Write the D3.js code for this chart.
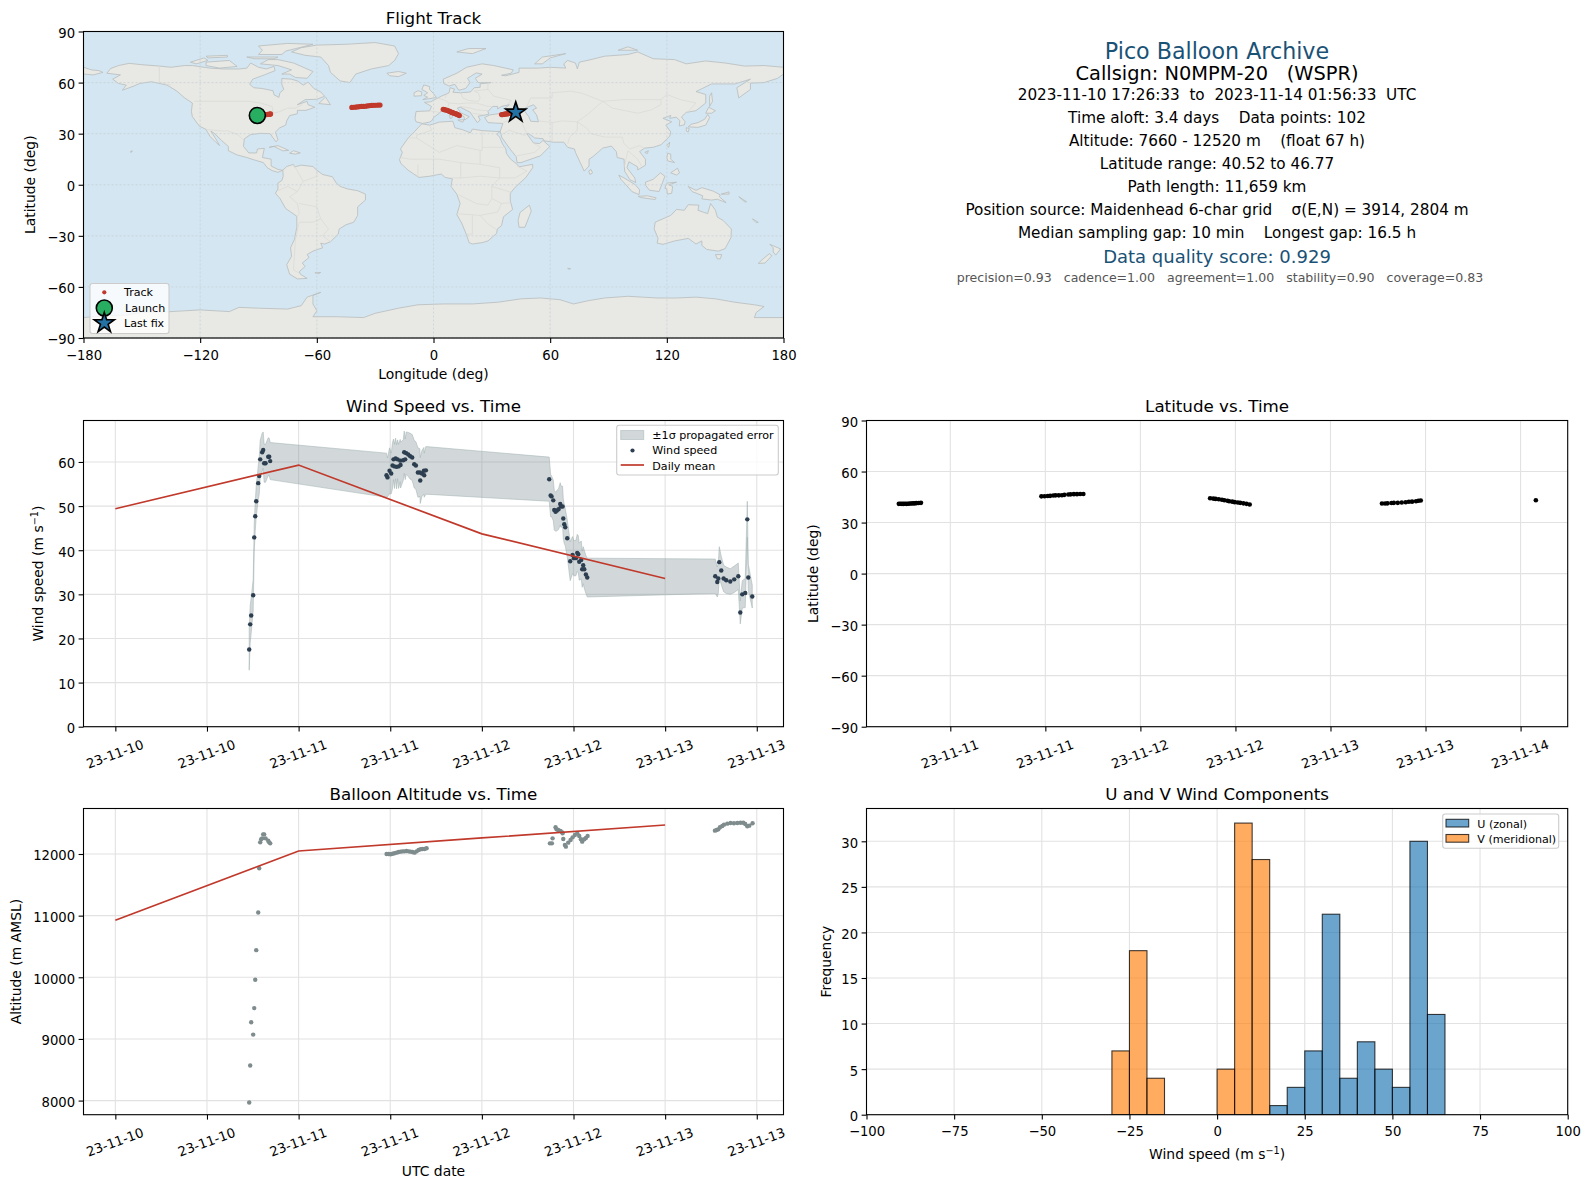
<!DOCTYPE html>
<html>
<head>
<meta charset="utf-8">
<script src="https://cdn.jsdelivr.net/npm/d3@7"></script>
<style>
  body { margin: 0; background: #fff; }
  svg { display: block; font-family: "DejaVu Sans", sans-serif; }
</style>
</head>
<body>
<div id="chart"></div>
<script>
// hours since 2023-11-10 00:00 UTC
const windHours = [17.53,17.66,17.79,18.05,18.19,18.32,18.45,18.71,18.84,18.97,19.23,19.36,19.49,19.67,20.02,20.15,20.28,
  35.51,35.64,35.91,36.13,36.30,36.43,36.56,36.70,36.83,36.96,37.09,37.31,37.35,37.70,37.83,37.96,38.09,38.36,38.62,38.88,39.14,39.36,39.62,39.88,39.93,40.15,40.41,40.45,40.67,
  56.82,57.00,57.13,57.35,57.48,57.65,57.83,58.04,58.26,58.35,58.57,58.66,58.79,58.92,59.18,59.57,59.88,60.05,60.31,60.49,60.62,60.75,61.01,61.14,61.27,61.41,61.62,61.80,
  78.56,78.83,78.96,79.09,79.35,79.66,80.00,80.53,81.05,81.58,81.84,82.10,82.49,82.76,82.89,83.41];
const windSpeed = [17.5,23.2,25.2,29.8,42.9,47.7,51.1,55.2,56.8,60.6,62.2,62.7,59.7,59.7,61.2,61.2,60.2,
  57.0,56.5,58.0,57.4,59.2,60.6,59.0,60.8,58.9,60.6,59.0,60.3,59.3,60.4,62.2,60.6,62.0,61.7,61.3,61.0,59.5,59.2,57.6,57.6,55.8,57.4,58.0,57.0,58.1,
  56.1,52.4,52.2,51.3,49.1,48.7,49.0,49.3,50.5,49.9,49.9,47.2,45.9,45.2,42.7,37.5,38.9,38.2,38.2,39.4,39.1,37.4,37.8,35.7,36.6,35.7,34.5,33.8,
  34.1,32.8,33.6,37.3,35.4,33.6,33.2,32.9,33.4,34.1,25.9,30.0,30.3,47.0,33.8,29.5];
const windSigma = [4.7,4.2,4.0,3.6,3.2,3.3,3.5,3.8,4.2,4.3,4.3,4.1,4.3,4.3,4.3,4.2,4.2,
  5.0,4.4,5.2,4.6,5.2,4.6,5.0,4.6,5.0,4.4,5.0,4.8,5.2,4.6,4.8,4.6,4.8,5.0,5.2,5.2,5.4,5.4,5.6,5.4,5.2,5.2,5.3,5.0,5.4,
  5.0,4.8,4.6,4.6,4.5,4.4,4.6,4.6,4.8,4.7,4.6,4.5,4.4,4.2,4.2,4.4,4.2,4.0,4.0,4.2,4.2,4.2,4.3,4.1,4.2,4.3,4.3,4.4,
  3.9,3.4,3.4,3.5,3.2,3.0,3.0,2.9,3.0,3.0,2.6,3.1,3.3,4.1,3.0,2.6];
const dailyHours = [0, 24, 48, 72];
const dailyWind = [49.4, 59.3, 43.7, 33.6];
const dailyAltitude = [10925, 12049, 12260, 12470];

const altHours = [17.53,17.66,17.79,18.05,18.19,18.32,18.45,18.71,18.84,18.97,19.10,19.23,19.36,19.49,19.67,20.02,20.15,20.28,
  35.52,35.78,36.04,36.30,36.56,36.83,37.09,37.35,37.61,37.87,38.14,38.40,38.66,38.92,39.18,39.45,39.71,39.97,40.23,40.49,40.76,
  56.91,57.17,57.26,57.65,57.78,58.00,58.30,58.52,58.57,58.66,58.87,59.00,59.31,59.62,59.88,60.18,60.49,60.75,60.97,61.14,61.41,61.62,61.85,
  78.52,78.74,78.96,79.18,79.48,79.70,80.14,80.57,81.01,81.45,81.88,82.23,82.49,82.76,83.02,83.45];
const altitude = [7970,8570,9270,9070,9500,9960,10440,11050,11768,12189,12238,12254,12319,12319,12254,12216,12189,12173,
  12000,12000,11995,12005,12011,12022,12033,12038,12043,12043,12049,12043,12038,12033,12022,12043,12065,12076,12081,12081,12092,
  12173,12173,12254,12433,12400,12389,12373,12351,12335,12243,12146,12119,12184,12227,12270,12308,12335,12292,12238,12200,12238,12260,12292,
  12379,12389,12400,12433,12454,12476,12492,12503,12498,12503,12508,12508,12487,12449,12460,12498];

const trackHours = [17.5,17.7,17.9,18.1,18.3,18.5,18.7,18.9,19.1,19.3,19.5,19.7,20.0,20.3,
  35.5,35.9,36.3,36.6,37.0,37.3,37.7,38.1,38.4,38.9,39.2,39.6,40.0,40.4,40.8,
  56.8,57.2,57.5,57.9,58.3,58.6,59.0,59.2,59.6,59.9,60.3,60.6,61.0,61.4,61.8,
  78.5,78.9,79.2,79.7,80.0,80.5,81.0,81.5,81.9,82.3,82.8,83.1,83.4,97.93];
const trackLat = [41.0,41.1,41.0,41.0,41.1,41.0,41.1,41.2,41.2,41.3,41.3,41.4,41.5,41.6,
  45.4,45.5,45.6,45.7,45.9,46.0,46.0,46.1,46.3,46.5,46.6,46.7,46.7,46.8,46.8,
  44.3,44.1,43.9,43.7,43.4,43.1,42.8,42.5,42.3,42.0,41.8,41.6,41.3,41.0,40.6,
  41.2,41.2,41.3,41.5,41.6,41.6,41.8,41.9,42.2,42.3,42.5,42.8,43.0,43.1];
const trackLon = [-90.5,-89.8,-89.2,-88.6,-88.0,-87.4,-86.8,-86.3,-85.8,-85.3,-84.8,-84.4,-84.1,-83.8,
  -42.0,-41.0,-40.0,-39.1,-38.0,-37.0,-36.0,-35.0,-34.0,-32.8,-31.7,-30.6,-29.6,-28.5,-27.5,
  5.0,5.7,6.3,7.0,7.6,8.2,8.8,9.4,10.0,10.5,11.1,11.7,12.2,12.8,13.3,
  35.0,35.5,36.0,36.6,37.2,37.8,38.4,39.0,39.6,40.2,40.8,41.3,41.8,42.3];
const launchPoint = [-90.6, 40.7];
const lastFix = [42.3, 42.5];

const binEdgesU = [15,20,25,30,35,40,45,50,55,60,65];
const countsU = [1,3,7,22,4,8,5,3,30,11];
const binEdgesV = [-30,-25,-20,-15,-10,-5,0,5,10,15];
const countsV = [7,18,4,0,0,0,5,32,28];

const infoLines = [
  ["Pico Balloon Archive", 50.5, 22.2, "#1a5276", 1217],
  ["Callsign: N0MPM-20   (WSPR)", 73, 19.4, "#000", 1217],
  ["2023-11-10 17:26:33  to  2023-11-14 01:56:33  UTC", 94.5, 15.25, "#000", 1217],
  ["Time aloft: 3.4 days    Data points: 102", 117.5, 15.25, "#000", 1217],
  ["Altitude: 7660 - 12520 m    (float 67 h)", 140.5, 15.25, "#000", 1217],
  ["Latitude range: 40.52 to 46.77", 163.5, 15.25, "#000", 1217],
  ["Path length: 11,659 km", 186.5, 15.25, "#000", 1217],
  ["Position source: Maidenhead 6-char grid    σ(E,N) = 3914, 2804 m", 209.5, 15.25, "#000", 1217],
  ["Median sampling gap: 10 min    Longest gap: 16.5 h", 232.5, 15.25, "#000", 1217],
  ["Data quality score: 0.929", 256.3, 18, "#1a5276", 1217],
  ["precision=0.93   cadence=1.00   agreement=1.00   stability=0.90   coverage=0.83", 277.5, 12.55, "#555", 1220]
];

// rough coastlines, lon/lat
const landPolygons = [
  [[-168,65.5],[-166,68.3],[-162,70],[-156.5,71.3],[-150,70.5],[-141,69.7],[-135,69],[-128,70],[-124,70],[-115,68.5],[-108,68],[-100,68],[-96,68.5],[-94,71.5],[-90,69],[-86,68],[-82,69.5],[-81.5,67],[-87,64.5],[-93,62],[-94.5,59],[-92.5,57],[-88,56.5],[-82.5,55.2],[-82,52.8],[-79.5,51.3],[-79,54],[-77,56],[-78,59],[-78,62.4],[-73,62],[-70,61],[-67,58.5],[-64.5,60.3],[-61.5,56.5],[-58,54.5],[-56,52],[-60,50.2],[-66,50],[-70,47],[-65,49],[-64.5,47],[-61,45.5],[-65.5,43.7],[-70,43.7],[-70,41.7],[-74,40.6],[-75.5,37.5],[-76,35],[-79,33.5],[-81.3,31],[-80,26.5],[-81,25.2],[-82.8,28],[-84,30],[-89,30.2],[-94,29.5],[-97.3,27],[-97.7,22.5],[-95,18.7],[-91,18.7],[-90.5,21],[-87,21.4],[-88,16],[-83.5,15],[-83.5,11],[-80,9],[-77.5,8.5],[-80,7.3],[-83,8.3],[-85.5,10],[-87.5,13],[-92,14.5],[-96,16],[-101,17.5],[-105.5,20],[-105.5,22.5],[-109,26],[-112.5,30],[-114.5,31.5],[-112,27],[-110,23],[-112,25],[-115,28.5],[-117,32.5],[-120.5,34.5],[-124,40],[-124.5,43],[-124,48],[-128,51],[-132,55],[-137,58.5],[-145,60.5],[-151,59.5],[-154,58],[-160,55.5],[-158,58.5],[-162,59.5],[-165,62],[-161,64.5]],
  [[-180,69],[-176,67.5],[-172,67],[-170,66],[-175,64.5],[-180,65]],
  [[-73,78],[-68,80.5],[-60,82],[-45,82.5],[-30,83.5],[-20,81.5],[-18,77],[-20,73],[-23,70],[-32,68],[-40,65],[-43,60],[-48,61],[-53,66],[-54,70],[-58,75],[-66,76]],
  [[-80,73.5],[-72,71.5],[-67,69],[-62,66.5],[-65,62.5],[-71,63],[-74,65],[-78,65],[-73,67.5],[-80,70],[-89,71],[-85,73.5]],
  [[-117,72],[-105,73],[-101,69.5],[-110,68.5],[-117,70]],
  [[-90,76.5],[-78,76.5],[-76,78.5],[-62,82.5],[-75,83],[-90,81.5],[-88,79]],
  [[-125,72],[-118,74.5],[-116,73],[-122,71]],
  [[-96,75],[-80,75],[-82,74],[-92,74]],
  [[-117,75.5],[-106,76],[-106,75],[-116,74.5]],
  [[-59,47.7],[-55.5,51.5],[-53,47]],
  [[-84.5,22],[-80,23],[-74.5,20.2],[-77.5,19.9],[-82,22.5]],
  [[-74,18.5],[-72,20],[-68.5,18.7],[-71,18]],
  [[-156,19.2],[-155,20],[-155,19.3]],
  [[-77.5,8.5],[-75.5,10.7],[-72,12],[-71.5,10.5],[-68,11.5],[-62,10.7],[-60,8.5],[-57,6],[-52,4.7],[-50,1],[-48,-1],[-44,-2.5],[-39,-3.5],[-35,-5.5],[-35,-9],[-39,-13],[-39,-18],[-41,-22],[-45,-23.5],[-48.5,-26],[-49,-29],[-53,-33.5],[-56,-34.8],[-58,-34.3],[-57,-37],[-62,-39],[-65,-41],[-64,-42.7],[-67.5,-46],[-66,-48],[-69,-51],[-68.5,-52.5],[-65,-55],[-70,-55.3],[-74,-52.5],[-75.5,-47],[-73,-42],[-73.5,-37],[-71.5,-32],[-70.3,-25],[-70.3,-18.5],[-76,-14],[-79,-8],[-81.3,-5],[-80,-2.5],[-80,1],[-78,2.5],[-77.3,5]],
  [[-61,-51.7],[-58,-51.5],[-59,-52.2]],
  [[-6,35.8],[-2,35],[3,36.8],[10,37.3],[11,33.5],[15,32.3],[19,30.5],[20,32.7],[25,31.8],[32,31.3],[34.3,31.3],[32.5,29.8],[34,28],[35.5,24],[37.2,21],[37.5,18.5],[39.5,15.2],[43,12],[44,10.5],[51,12],[51,10],[47.5,4.3],[42,-1.5],[39.5,-5],[39.5,-9.5],[40.7,-14.5],[36,-18.8],[35,-24],[32.8,-26],[32.5,-28.5],[28,-33],[25,-34],[20,-34.8],[18.3,-34],[17,-29.5],[14.5,-22.5],[12,-17.5],[13.7,-11],[12,-5.5],[9,-1],[9.7,3.5],[6,4.3],[4,6.3],[-2,5],[-7.5,4.3],[-13,8.5],[-16.8,12.5],[-17.5,14.7],[-16,19],[-17,21],[-13,27.5],[-9.5,31.5]],
  [[-9,37],[-9.5,38.8],[-9,43],[-2,43.4],[-1,46],[-4.7,48.4],[-1.5,48.7],[1.5,50.5],[4,52],[8,54],[8.5,57],[10.8,56.2],[10,54.3],[14,54],[19,54.5],[21,57],[24,57.2],[24,59.3],[29.5,60],[23,60],[21.5,62.5],[25,65],[22,65.7],[17.5,62.5],[18.8,60],[16.5,56.5],[13,55.5],[11,59],[8,58],[5.2,59.5],[5,62],[12,65.5],[17,69],[25,71],[31,70],[41,67.5],[40,65.5],[35,64.3],[37,64],[40,64.8],[44,66],[44,68.5],[54,68.5],[60,69],[68,68.5],[67,71],[69,73],[73,71.5],[74,68],[75,72],[81,73.5],[88,75.5],[100,76.5],[105,78],[113,74],[124,73.5],[130,71],[140,72.7],[150,71.5],[160,69.7],[170,70],[180,69],[180,65],[177,62.5],[170,60],[163,59.7],[163,56],[157,51],[156,57],[163,62],[155,59.2],[143,59.2],[135,54.7],[140,53],[140,48],[135,43.5],[130,42.5],[127.5,39.8],[129.4,37],[129,35.2],[126.4,34.5],[126.7,37.7],[124.8,39.7],[121.5,39],[122,40.7],[118,39],[122.5,37],[119.5,35],[122,31],[121.5,28.5],[117,23.5],[113,22],[108.5,21.5],[106,19.5],[109,15],[109,11.5],[105,8.7],[105,10.5],[100.5,13.5],[99.5,10],[103.5,4],[104,1.3],[101,3],[98.3,8],[98,15],[94.5,16],[94,19.5],[91.5,22.7],[87,21.5],[82,16.5],[80,15],[80,11],[77.5,8],[73,19],[72.5,21],[69,22],[67,25],[61.5,25],[57,25.8],[56.4,27],[52,27.5],[49,30],[48,30],[50.5,26],[51.5,24.5],[54.5,24.2],[56.3,26],[59.8,22.5],[55,17],[45,13],[43,13],[42.5,16.5],[39,21.5],[35,28],[34.8,29.5],[34.3,31.3],[35.7,36],[32,36.2],[28,36.5],[26.3,39.5],[29,41],[35,42],[41.5,41.5],[38,44.5],[37,45.2],[39,47],[35,46],[33,44.5],[33,46],[30.5,46],[28,43],[28.5,41.5],[26,40.8],[23,40.3],[24,38],[22.5,36.5],[19.5,41.5],[19,42.5],[13.7,45.6],[12.3,45],[14,42.3],[18.4,40],[16,38],[15.7,40],[10.5,43],[8.7,44.4],[4,43.4],[3,42],[0,39.5],[-0.5,38],[-2,36.8],[-5.5,36]],
  [[-5.5,50],[1.5,51.2],[0,53.5],[-2,56],[-2,57.7],[-5,58.6],[-6,56],[-3,54],[-5,52.5],[-3,51.4]],
  [[-10,52],[-6.2,52.3],[-6,54.5],[-8,55.2],[-10,54]],
  [[-24,65.5],[-18,66.5],[-14,65.5],[-18,63.5],[-22.5,64]],
  [[12,78],[18,80],[27,80],[20,77]],
  [[52,71],[56,75],[68,77],[60,74.5],[56,71]],
  [[95,79],[105,79],[100,81]],
  [[142,46],[143.5,49],[143,54],[142,52],[142,48]],
  [[131,34],[136,33.7],[140,35],[142,39.5],[141,41.3],[139.5,38.5],[136,36.5],[132.5,35.5]],
  [[140,42],[141.5,45.5],[145,43.5],[143,42]],
  [[130,33.5],[131.5,33],[131,31],[130,31.5]],
  [[120,23],[121.5,25],[121,22]],
  [[108.7,19],[110.5,20],[110,18.3]],
  [[120,16],[120.5,18.5],[122,18],[122,15],[124,13],[120.5,14]],
  [[122,7],[125.5,9.7],[126.5,7],[125,5.7]],
  [[79.8,8],[81,9],[81.8,7],[80.5,6]],
  [[95.3,5.6],[98,4],[103.8,0],[106,-3],[105.7,-5.8],[102,-4],[99,0],[96.5,3]],
  [[105.3,-6.8],[110,-6.5],[114.5,-7.7],[114,-8.7],[106.5,-7.5]],
  [[109,1.5],[113,3.2],[116.7,7],[119,5],[117.7,1],[116,-4],[111,-3.2],[109.2,-0.5]],
  [[120,1],[125,1.5],[121,0],[123,-1],[122.5,-5],[120.3,-5.5],[120,-2.5],[119,-2]],
  [[131,-1],[135,-3.3],[138,-1.7],[144,-3.8],[147.5,-6],[147,-7],[150.5,-10.5],[146,-8.5],[143,-9],[138,-8.3],[138.5,-6.5],[133,-4],[132,-2.5]],
  [[148,-5.5],[152,-4.2],[152,-5.5]],
  [[157,-7],[161,-10],[160,-10]],
  [[164,-20],[167,-22],[166,-22.3]],
  [[114,-22],[113.5,-26],[115.5,-31.5],[115,-34.3],[118,-35],[124,-33],[131,-31.5],[135,-34.8],[138,-33],[138,-35.6],[140.5,-38],[146.5,-39],[150,-37.5],[153,-31],[153.2,-26],[149,-21],[146,-19],[145,-15],[142.5,-11],[141,-17],[136,-15],[136.5,-12],[131,-11.7],[129,-15],[125,-14.5],[122,-18],[117,-20.5]],
  [[145,-41],[148.2,-41],[147.5,-43.5],[146,-43.5]],
  [[173,-35],[178.5,-37.7],[176,-41.3],[174.7,-39.5],[174.7,-37]],
  [[172.7,-40.5],[174,-41.7],[170.5,-46],[167,-46.2],[170,-43]],
  [[49.3,-12],[50.3,-15.5],[47,-25],[44,-25],[43.5,-21],[44.5,-16.3]],
  [[69,-49],[70.5,-49.3],[69.5,-49.7]],
  [[12.5,38],[15.6,38.2],[15,36.7]],
  [[8.3,41],[9.7,41],[9.5,39.2],[8.5,39]],
  [[-180,-78],[-170,-77],[-158,-76.5],[-150,-75],[-135,-74.5],[-120,-73.5],[-105,-74.5],[-100,-72],[-90,-72.5],[-75,-73],[-68,-71],[-65,-66],[-58,-63.2],[-62,-65],[-62,-70],[-60,-74],[-62,-77.5],[-50,-77.5],[-36,-78],[-30,-75.5],[-18,-72.5],[-8,-70.5],[5,-70],[20,-70],[33,-69],[45,-67],[55,-66.5],[65,-67.5],[72,-70],[80,-68],[88,-66.5],[100,-65.5],[115,-66.5],[125,-66.5],[135,-66],[145,-67],[155,-69],[165,-70.5],[170,-71.5],[166,-75],[165,-78],[180,-78],[180,-90],[-180,-90]]
];
const seaPolygons = [
  [[47,45],[51.5,47],[53,45],[51,44],[53,41],[54,37],[50,37.3],[49,40],[47,43]]
];
const borderLines = [
  [[-123,49],[-95,49],[-89,48],[-83,46],[-82.5,42],[-79,43],[-75,45],[-71,45],[-67.5,47]],
  [[-141,69.7],[-141,60],[-135,58.5]],
  [[-117,32.5],[-108,31.5],[-106,31.7],[-101,29.7],[-97.3,26]],
  [[-72,12],[-67,2],[-70,-4],[-74,-7],[-70,-11],[-69,-17],[-70,-18.5]],
  [[-69,-11],[-60,-13],[-58,-20],[-54,-26],[-57,-30],[-53,-33.5]],
  [[-69,-22],[-62,-22],[-58,-20]],
  [[-69,-22],[-71,-32],[-72,-50],[-69,-52]],
  [[-60,8.5],[-60,5],[-67,2]],
  [[-80,-3.5],[-75,-1],[-70,-4]],
  [[-13,27.5],[-8.7,27.5],[-8.7,29],[-1,32],[-2,35]],
  [[-8.7,27.5],[3,19],[12,23],[25,20],[25,31.8]],
  [[25,22],[37,22]],
  [[-17,16],[-12,15],[-5,15],[3,15],[14,13],[24,12],[24,20]],
  [[14,13],[14,4],[9,4]],
  [[24,12],[34,10],[34,4],[42,4],[48,8],[43,11]],
  [[34,4],[30,-1],[30,-8],[28,-12],[22,-11],[13,-6]],
  [[34,4],[24,5],[14,4]],
  [[30,-1],[40,-4.5]],
  [[30,-8],[35,-11],[40,-10.5]],
  [[12,-17],[24,-18],[33,-16],[35,-11]],
  [[20,-18],[20,-29],[17,-29]],
  [[24,-18],[28,-23],[32,-26]],
  [[0,5.5],[0,15]],
  [[-8,4.5],[-8,12]],
  [[-2,43.4],[3,42.5]],
  [[2,51],[6,49.5],[8,48],[7,44]],
  [[6,51],[7,53.5]],
  [[14,54],[15,51],[18,49.5],[23,49],[24,51],[23,54],[21,55],[28,56]],
  [[8,48],[13,47.5],[17,48],[22,48],[28,46],[30,46]],
  [[13.5,46],[19,45],[22,44],[28,43.5]],
  [[20,42],[26,41]],
  [[28,60],[28,56],[31,52],[40,49.5],[38,47]],
  [[48,46],[50,51],[61,51],[61,54],[71,55],[77,53.5],[87,49],[98,50],[107,50],[117,50],[120,53],[127,50],[135,48],[131,43]],
  [[87,49],[92,45],[105,42],[112,44],[117,47],[117,50]],
  [[74,37],[79,33],[81,30],[88,28],[97,28],[98,24],[101,21],[106,23],[108,21.5]],
  [[74,37],[74,32],[70,28],[69,24]],
  [[44.5,39.5],[46,35],[48,30]],
  [[61,36.5],[61,25]],
  [[54,37.5],[61,36.5],[66,37.5],[74,37]],
  [[74,37],[80,42],[87,49]],
  [[35,29.5],[39,32],[47,29],[48,30]],
  [[43,17],[52,19],[55,22],[52,24]],
  [[98,10],[100,20],[105,15],[107,11]],
  [[41.5,41.5],[44.5,39.5],[36,36.7]]
];

const W = 1589, H = 1189;
const TIME0 = Date.UTC(2023, 10, 10);
const toDate = h => new Date(TIME0 + h * 3600e3);
const fmtDate = d3.utcFormat("%y-%m-%d");
const RED = "#c0392b", SLATE = "#2c3e50", GREY = "#7f8c8d";

const svg = d3.select("#chart").append("svg").attr("width", W).attr("height", H);

// one panel: gridlines, ticks, spines, title and axis labels
function panel(box, xScale, yScale, opts) {
  const g = svg.append("g");
  const clipId = "clip" + opts.id;
  g.append("clipPath").attr("id", clipId).append("rect")
    .attr("x", box.x0).attr("y", box.y0)
    .attr("width", box.x1 - box.x0).attr("height", box.y1 - box.y0);

  const bg = g.append("g");
  const gridG = g.append("g")
    .attr("stroke", opts.gridColor || "#e2e2e2")
    .attr("stroke-width", opts.gridWidth || 1.1)
    .attr("stroke-dasharray", opts.gridDash || null);
  const plot = g.append("g").attr("clip-path", `url(#${clipId})`);
  const xTicks = opts.xTicks, yTicks = opts.yTicks;
  gridG.selectAll("line.gx").data(xTicks).enter().append("line").attr("class", "gx")
    .attr("x1", d => xScale(d)).attr("x2", d => xScale(d))
    .attr("y1", box.y0).attr("y2", box.y1);
  gridG.selectAll("line.gy").data(yTicks).enter().append("line").attr("class", "gy")
    .attr("x1", box.x0).attr("x2", box.x1)
    .attr("y1", d => yScale(d)).attr("y2", d => yScale(d));

  const over = g.append("g");
  const axisX = over.append("g").attr("transform", `translate(0,${box.y1})`)
    .call(d3.axisBottom(xScale).tickValues(xTicks).tickSizeOuter(0).tickSize(4.9).tickPadding(7.5)
      .tickFormat(opts.xFormat || (d => String(d).replace("-", "−"))));
  const axisY = over.append("g").attr("transform", `translate(${box.x0},0)`)
    .call(d3.axisLeft(yScale).tickValues(yTicks).tickSizeOuter(0).tickSize(4.9).tickPadding(3.5)
      .tickFormat(d => String(d).replace("-", "−")));
  [axisX, axisY].forEach(a => {
    a.select(".domain").remove();
    a.selectAll("line").attr("stroke", "#000").attr("stroke-width", 1.1);
    a.selectAll("text").attr("fill", "#000").style("font-family", "DejaVu Sans").style("font-size", "13.2px");
  });
  axisY.selectAll("text").attr("dy", "0.45em");
  if (opts.xFormat) {
    axisX.selectAll("text").attr("text-anchor", "middle")
      .attr("dy", null).attr("y", 0)
      .attr("transform", "translate(-0.7,28) rotate(-20)")
      .attr("dominant-baseline", "middle");
  }
  over.append("rect").attr("x", box.x0).attr("y", box.y0)
    .attr("width", box.x1 - box.x0).attr("height", box.y1 - box.y0)
    .attr("fill", "none").attr("stroke", "#000").attr("stroke-width", 1.1);

  svg.append("text").attr("x", (box.x0 + box.x1) / 2).attr("y", opts.titleY || box.y0 - 9)
    .attr("text-anchor", "middle").style("font-size", "16.7px").text(opts.title);
  if (opts.xLabel) {
    const xl = svg.append("text").attr("x", (box.x0 + box.x1) / 2).attr("y", opts.xLabelY)
      .attr("text-anchor", "middle").style("font-size", "13.9px").text(opts.xLabel);
    if (opts.xLabelSup) addSuperscript(xl, opts.xLabelSup);
  }
  const yl = svg.append("text")
    .attr("transform", `translate(${opts.yLabelX},${(box.y0 + box.y1) / 2}) rotate(-90)`)
    .attr("text-anchor", "middle").style("font-size", "13.9px").text(opts.yLabel);
  if (opts.yLabelSup) addSuperscript(yl, opts.yLabelSup);
  return { bg, plot };
}

function addSuperscript(label, sup) {
  label.append("tspan").attr("dy", -5).style("font-size", "9.7px").text(sup);
  label.append("tspan").attr("dy", 5).text(")");
}

function legendBox(x, y, w, h) {
  svg.append("rect").attr("x", x).attr("y", y).attr("width", w).attr("height", h).attr("rx", 2.5)
    .attr("fill", "#fff").attr("fill-opacity", 0.8).attr("stroke", "#ccc").attr("stroke-width", 1.1);
}
function legendText(x, y, label) {
  svg.append("text").attr("x", x).attr("y", y).attr("dominant-baseline", "central")
    .style("font-size", "11.1px").attr("fill", "#000").text(label);
}

// ---- Flight track map
const mapBox = { x0: 83.5, x1: 783.5, y0: 31.5, y1: 338 };
const lonX = d3.scaleLinear().domain([-180, 180]).range([mapBox.x0, mapBox.x1]);
const latY = d3.scaleLinear().domain([-90, 90]).range([mapBox.y1, mapBox.y0]);
const geoLine = d3.line().x(d => lonX(d[0])).y(d => latY(d[1]));
const mapPanel = panel(mapBox, lonX, latY, {
  id: "map", title: "Flight Track", titleY: 23.5, xLabel: "Longitude (deg)", xLabelY: 379, yLabel: "Latitude (deg)", yLabelX: 35,
  xTicks: [-180, -120, -60, 0, 60, 120, 180], yTicks: [-90, -60, -30, 0, 30, 60, 90],
  gridColor: "#c4d0d6", gridDash: "2,2", gridWidth: 0.7
});
mapPanel.bg.append("rect").attr("x", mapBox.x0).attr("y", mapBox.y0)
  .attr("width", mapBox.x1 - mapBox.x0).attr("height", mapBox.y1 - mapBox.y0).attr("fill", "#d4e6f1");
mapPanel.bg.selectAll("path.land").data(landPolygons).enter().append("path").attr("class", "land")
  .attr("d", d => geoLine(d) + "Z")
  .attr("fill", "#e8e8e4").attr("stroke", "#b8bcbc").attr("stroke-width", 0.8).attr("stroke-linejoin", "round");
mapPanel.bg.selectAll("path.sea").data(seaPolygons).enter().append("path").attr("class", "sea")
  .attr("d", d => geoLine(d) + "Z")
  .attr("fill", "#d4e6f1").attr("stroke", "#b8bcbc").attr("stroke-width", 0.8);
mapPanel.bg.selectAll("path.border").data(borderLines).enter().append("path").attr("class", "border")
  .attr("d", geoLine).attr("fill", "none").attr("stroke", "#d9d9d5").attr("stroke-width", 0.7);
mapPanel.plot.selectAll("circle").data(trackLon).enter().append("circle")
  .attr("cx", d => lonX(d)).attr("cy", (d, i) => latY(trackLat[i]))
  .attr("r", 2.6).attr("fill", RED);
mapPanel.plot.append("circle").attr("cx", lonX(launchPoint[0])).attr("cy", latY(launchPoint[1]))
  .attr("r", 8).attr("fill", "#27ae60").attr("stroke", "#000").attr("stroke-width", 1.6);
const starPath = d3.symbol(d3.symbolStar, 125);
mapPanel.plot.append("path").attr("d", starPath)
  .attr("transform", `translate(${lonX(lastFix[0])},${latY(lastFix[1])})`)
  .attr("fill", "#2471a3").attr("stroke", "#000").attr("stroke-width", 1.6);

legendBox(90, 283.5, 79, 50);
svg.append("circle").attr("cx", 104.3).attr("cy", 292.3).attr("r", 2.1).attr("fill", RED);
svg.append("circle").attr("cx", 104.3).attr("cy", 308).attr("r", 8)
  .attr("fill", "#27ae60").attr("stroke", "#000").attr("stroke-width", 1.6);
svg.append("path").attr("d", starPath).attr("transform", "translate(104.3,323)")
  .attr("fill", "#2471a3").attr("stroke", "#000").attr("stroke-width", 1.6);
legendText(124, 292.5, "Track");
legendText(125, 308.5, "Launch");
legendText(124, 323.5, "Last fix");

// ---- Info text
svg.selectAll("text.info").data(infoLines).enter().append("text").attr("class", "info")
  .attr("x", d => d[4]).attr("y", d => d[1]).attr("text-anchor", "middle").attr("dominant-baseline", "central")
  .style("font-size", d => d[2] + "px").attr("fill", d => d[3]).style("white-space", "pre")
  .attr("xml:space", "preserve").text(d => d[0]);

// ---- Wind speed vs time
const timeDomainA = [toDate(-4.17), toDate(87.5)];
const windBox = { x0: 83.5, x1: 783.5, y0: 420.5, y1: 726.7 };
const windX = d3.scaleUtc().domain(timeDomainA).range([windBox.x0, windBox.x1]);
const windY = d3.scaleLinear().domain([0, 69.4]).range([windBox.y1, windBox.y0]);
const timeTicksA = windX.ticks(d3.utcHour.every(12));
const windPanel = panel(windBox, windX, windY, {
  id: "wind", title: "Wind Speed vs. Time", yLabel: "Wind speed (m s", yLabelSup: "−1", yLabelX: 43,
  xTicks: timeTicksA, yTicks: [0, 10, 20, 30, 40, 50, 60], xFormat: fmtDate
});
const band = d3.area().x((d, i) => windX(toDate(windHours[i])))
  .y0((d, i) => windY(d - windSigma[i])).y1((d, i) => windY(d + windSigma[i]));
windPanel.plot.append("path").attr("d", band(windSpeed))
  .attr("fill", "#7f8f95").attr("fill-opacity", 0.35).attr("stroke", "#9fb0b0").attr("stroke-opacity", 0.5);
windPanel.plot.selectAll("circle").data(windSpeed).enter().append("circle")
  .attr("cx", (d, i) => windX(toDate(windHours[i]))).attr("cy", d => windY(d))
  .attr("r", 2.2).attr("fill", SLATE);
const windMean = d3.line().x((d, i) => windX(toDate(dailyHours[i]))).y(d => windY(d));
windPanel.plot.append("path").attr("d", windMean(dailyWind))
  .attr("fill", "none").attr("stroke", RED).attr("stroke-width", 1.7);

legendBox(616.7, 425.3, 161.6, 49.7);
svg.append("rect").attr("x", 620.7).attr("y", 430.5).attr("width", 23).attr("height", 9)
  .attr("fill", "#7f8f95").attr("fill-opacity", 0.35).attr("stroke", "#9fb0b0").attr("stroke-opacity", 0.5);
svg.append("circle").attr("cx", 632.5).attr("cy", 450.5).attr("r", 2.1).attr("fill", SLATE);
svg.append("line").attr("x1", 620.7).attr("x2", 644).attr("y1", 465).attr("y2", 465)
  .attr("stroke", RED).attr("stroke-width", 1.7);
legendText(652.3, 435.5, "±1σ propagated error");
legendText(652.3, 450.5, "Wind speed");
legendText(652.3, 466, "Daily mean");

// ---- Latitude vs time
const latBox = { x0: 866.5, x1: 1567.7, y0: 420.5, y1: 726.7 };
const latX = d3.scaleUtc().domain([toDate(13.42), toDate(101.95)]).range([latBox.x0, latBox.x1]);
const latTimeY = d3.scaleLinear().domain([-90, 90]).range([latBox.y1, latBox.y0]);
const latPanel = panel(latBox, latX, latTimeY, {
  id: "lat", title: "Latitude vs. Time", yLabel: "Latitude (deg)", yLabelX: 818,
  xTicks: latX.ticks(d3.utcHour.every(12)), yTicks: [-90, -60, -30, 0, 30, 60, 90], xFormat: fmtDate
});
latPanel.plot.selectAll("circle").data(trackLat).enter().append("circle")
  .attr("cx", (d, i) => latX(toDate(trackHours[i]))).attr("cy", d => latTimeY(d))
  .attr("r", 2.3).attr("fill", "#000");

// ---- Altitude vs time
const altBox = { x0: 83.5, x1: 783.5, y0: 808.5, y1: 1114.7 };
const altX = d3.scaleUtc().domain(timeDomainA).range([altBox.x0, altBox.x1]);
const altY = d3.scaleLinear().domain([7771, 12738]).range([altBox.y1, altBox.y0]);
const altPanel = panel(altBox, altX, altY, {
  id: "alt", title: "Balloon Altitude vs. Time", xLabel: "UTC date", xLabelY: 1176, yLabel: "Altitude (m AMSL)", yLabelX: 21,
  xTicks: timeTicksA, yTicks: [8000, 9000, 10000, 11000, 12000], xFormat: fmtDate
});
altPanel.plot.selectAll("circle").data(altitude).enter().append("circle")
  .attr("cx", (d, i) => altX(toDate(altHours[i]))).attr("cy", d => altY(d))
  .attr("r", 2.2).attr("fill", GREY);
const altMean = d3.line().x((d, i) => altX(toDate(dailyHours[i]))).y(d => altY(d));
altPanel.plot.append("path").attr("d", altMean(dailyAltitude))
  .attr("fill", "none").attr("stroke", RED).attr("stroke-width", 1.7);

// ---- U / V histogram
const histBox = { x0: 866.5, x1: 1567.7, y0: 808.5, y1: 1114.7 };
const histX = d3.scaleLinear().domain([-100, 100]).range([histBox.x0, histBox.x1]);
const histY = d3.scaleLinear().domain([0, 33.6]).range([histBox.y1, histBox.y0]);
const histPanel = panel(histBox, histX, histY, {
  id: "hist", title: "U and V Wind Components", xLabel: "Wind speed (m s", xLabelSup: "−1", xLabelY: 1159, yLabel: "Frequency", yLabelX: 831,
  xTicks: [-100, -75, -50, -25, 0, 25, 50, 75, 100], yTicks: [0, 5, 10, 15, 20, 25, 30]
});
function drawBars(edges, counts, color) {
  histPanel.plot.append("g").selectAll("rect").data(counts).enter().append("rect")
    .attr("x", (d, i) => histX(edges[i])).attr("width", (d, i) => histX(edges[i + 1]) - histX(edges[i]))
    .attr("y", d => histY(d)).attr("height", d => histY(0) - histY(d))
    .attr("fill", color).attr("fill-opacity", 0.66)
    .attr("stroke", "#000").attr("stroke-opacity", 0.75).attr("stroke-width", 1.1);
}
drawBars(binEdgesU, countsU, "#1f77b4");
drawBars(binEdgesV, countsV, "#ff7f0e");

legendBox(1442.7, 814, 116, 34.3);
[["#1f77b4", 819.3, 824.5, "U (zonal)"], ["#ff7f0e", 834.5, 839.5, "V (meridional)"]].forEach(d => {
  svg.append("rect").attr("x", 1446).attr("y", d[1]).attr("width", 22.7).attr("height", 7.7)
    .attr("fill", d[0]).attr("fill-opacity", 0.66).attr("stroke", "#000").attr("stroke-opacity", 0.75).attr("stroke-width", 1.1);
  legendText(1477.3, d[2], d[3]);
});
</script>
</body>
</html>
